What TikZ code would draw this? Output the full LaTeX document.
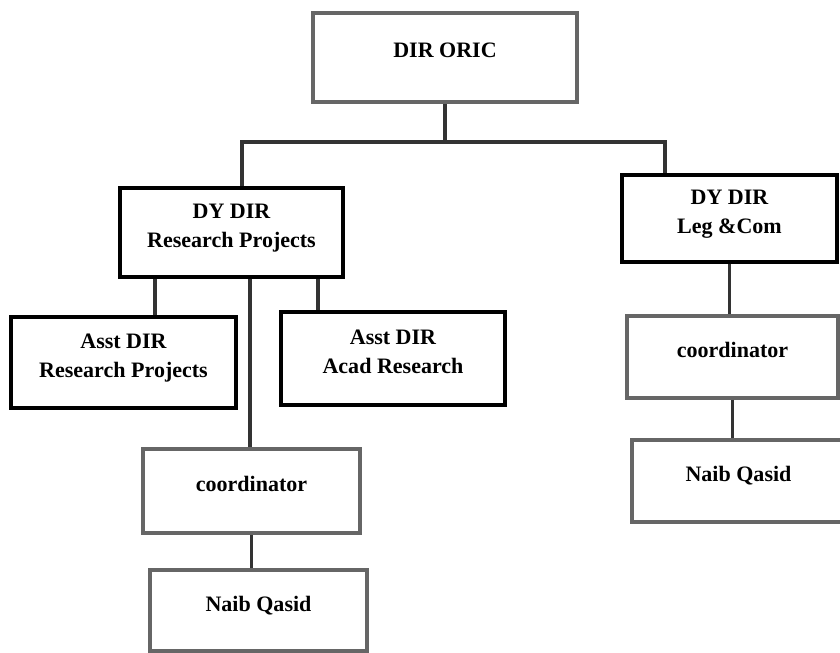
\documentclass[tikz,border=0pt]{standalone}
\usepackage{fontspec}
\setmainfont{Liberation Serif}

\tikzset{
  box/.style={draw=black, line width=3.2pt, fill=white, align=center, inner sep=0pt,
    font=\bfseries\fontsize{18.8}{24.5}\selectfont, text depth=12pt},
  greybox/.style={box, draw=black!60},
  link/.style={draw=black!80, line width=3.2pt},
}

\begin{document}
\begin{tikzpicture}[x=0.03cm,y=-0.03cm]
  \useasboundingbox[fill=white] (0,0) rectangle (840,653);
  % boxes
  \node[greybox,minimum width=7.92cm,minimum height=2.67cm] (oric)  at (445,57.5)   {DIR ORIC};
  \node[box,minimum width=6.69cm,minimum height=2.67cm]     (dyrp)  at (231.5,232.5) {DY DIR\\Research Projects};
  \node[box,minimum width=6.45cm,minimum height=2.61cm]     (dylc)  at (729.5,218.5) {DY DIR\\Leg \&Com};
  \node[box,minimum width=6.75cm,minimum height=2.73cm]     (astrp) at (123.5,362.5) {Asst DIR\\Research Projects};
  \node[box,minimum width=6.72cm,minimum height=2.79cm]     (astar) at (393,358.5)   {Asst DIR\\Acad Research};
  \node[greybox,minimum width=6.51cm,minimum height=2.52cm] (corl)  at (251.5,491)   {coordinator};
  \node[greybox,minimum width=6.51cm,minimum height=2.43cm] (naibl) at (258.5,610.5) {Naib Qasid};
  \node[greybox,minimum width=6.33cm,minimum height=2.46cm] (corr)  at (732.5,357)   {coordinator};
  \node[greybox,minimum width=6.39cm,minimum height=2.46cm] (naibr) at (738.5,481)   {Naib Qasid};

  % connectors
  \coordinate (barL) at (242,142);
  \coordinate (barR) at (665,142);
  \coordinate (rpA) at (155,0);
  \coordinate (rpB) at (250,0);
  \coordinate (rpC) at (318,0);
  \draw[link] (oric.south) -- (oric.south |- barL);
  \draw[link] (barL |- dyrp.north) -- (barL) -- (barR) -- (barR |- dylc.north);
  \draw[link] (rpA |- dyrp.south) -- (rpA |- astrp.north);
  \draw[link] (rpB |- dyrp.south) -- (rpB |- corl.north);
  \draw[link] (rpC |- dyrp.south) -- (rpC |- astar.north);
  \draw[link] (corl.south) -- (corl.south |- naibl.north);
  \draw[link] (dylc.south) -- (dylc.south |- corr.north);
  \draw[link] (corr.south) -- (corr.south |- naibr.north);
\end{tikzpicture}
\end{document}
